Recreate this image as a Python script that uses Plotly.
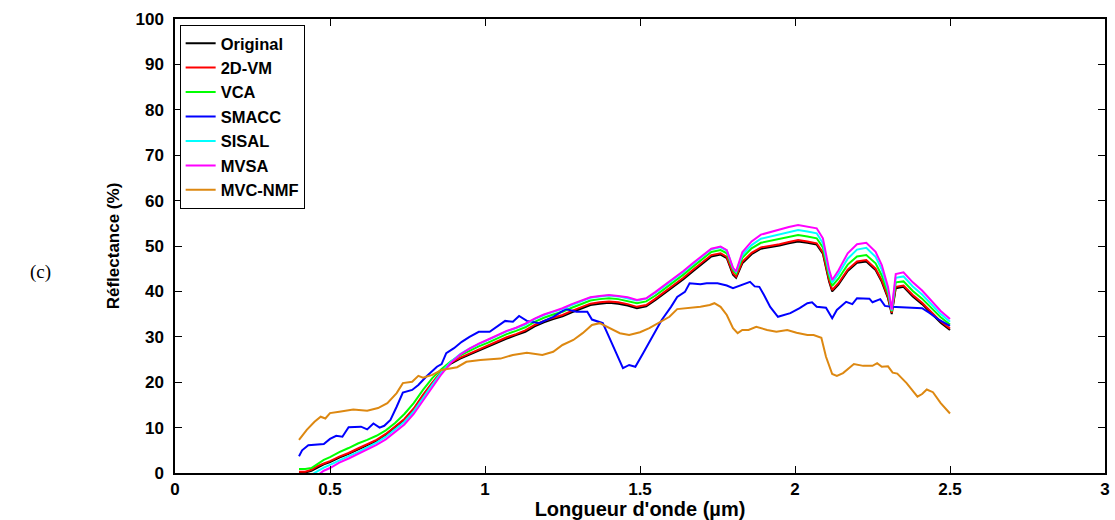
import plotly.graph_objects as go

# Wavelength grid shared by the five close spectra (µm)
wl = [0.40, 0.42, 0.44, 0.46, 0.48, 0.50, 0.53, 0.56, 0.59, 0.62, 0.65, 0.68, 0.71, 0.74, 0.77,
      0.80, 0.83, 0.86, 0.89, 0.92, 0.95, 0.98, 1.01, 1.04, 1.07, 1.10, 1.13, 1.16, 1.19, 1.22,
      1.25, 1.28, 1.31, 1.34, 1.37, 1.40, 1.43, 1.46, 1.49, 1.52, 1.55, 1.58, 1.61, 1.64, 1.67,
      1.70, 1.73, 1.76, 1.78, 1.80, 1.81, 1.83, 1.86, 1.89, 1.92, 1.95, 1.98, 2.01, 2.04, 2.07,
      2.09, 2.11, 2.12, 2.14, 2.17, 2.20, 2.23, 2.26, 2.28, 2.30, 2.312, 2.325, 2.35, 2.38, 2.41,
      2.44, 2.47, 2.50]

original = [0.0, 0.1, 0.5, 1.2, 1.9, 2.4, 3.4, 4.2, 5.2, 6.1, 7.1, 8.4, 10.0, 11.7, 14.0,
            17.0, 19.7, 22.2, 24.1, 25.2, 26.1, 27.0, 27.8, 28.7, 29.6, 30.4, 31.1, 32.3, 33.2, 33.9,
            34.5, 35.4, 36.2, 37.0, 37.3, 37.5, 37.3, 36.9, 36.3, 36.7, 38.1, 39.6, 41.1, 42.7, 44.4,
            46.0, 47.7, 48.1, 47.3, 43.7, 43.0, 46.2, 48.2, 49.4, 49.7, 50.1, 50.6, 51.0, 50.7, 50.3,
            48.3, 42.2, 40.0, 41.5, 44.5, 46.3, 46.6, 44.7, 42.1, 38.5, 35.0, 40.7, 41.0, 38.9, 37.2,
            35.1, 33.1, 31.5]

vm2d = [0.3, 0.3, 0.7, 1.5, 2.1, 2.6, 3.6, 4.4, 5.4, 6.3, 7.3, 8.6, 10.2, 11.9, 14.2,
        17.2, 19.9, 22.4, 24.3, 25.4, 26.3, 27.2, 28.0, 29.0, 29.9, 30.6, 31.4, 32.6, 33.5, 34.2,
        34.8, 35.7, 36.5, 37.3, 37.6, 37.8, 37.6, 37.2, 36.6, 37.0, 38.4, 39.9, 41.4, 43.0, 44.7,
        46.3, 48.0, 48.4, 47.6, 44.0, 43.3, 46.5, 48.5, 49.7, 50.0, 50.4, 50.9, 51.3, 51.0, 50.6,
        48.6, 42.5, 40.3, 41.8, 44.8, 46.6, 46.9, 45.0, 42.4, 38.8, 35.3, 41.0, 41.3, 39.2, 37.5,
        35.4, 33.4, 31.8]

vca = [0.9, 0.9, 1.1, 2.0, 2.9, 3.5, 4.6, 5.5, 6.5, 7.3, 8.2, 9.4, 11.0, 13.0, 15.4,
       18.3, 20.9, 22.9, 24.6, 25.9, 26.9, 27.9, 28.7, 29.7, 30.6, 31.3, 32.1, 33.3, 34.2, 34.9,
       35.5, 36.4, 37.2, 38.0, 38.3, 38.5, 38.3, 37.9, 37.4, 37.8, 39.1, 40.6, 42.1, 43.7, 45.4,
       47.0, 48.7, 49.1, 48.4, 44.7, 43.9, 47.4, 49.5, 50.7, 51.1, 51.5, 52.0, 52.4, 52.1, 51.7,
       49.7, 43.4, 41.2, 42.8, 45.9, 47.7, 48.0, 46.2, 43.5, 39.6, 35.6, 42.0, 42.2, 40.1, 38.4,
       36.3, 34.3, 32.7]

sisal = [-1.5, -1.0, -0.4, 0.4, 1.2, 1.8, 2.8, 3.7, 4.6, 5.6, 6.7, 8.0, 9.6, 11.3, 13.6,
         16.6, 19.5, 22.2, 24.5, 26.2, 27.4, 28.4, 29.3, 30.3, 31.2, 31.9, 32.7, 33.9, 34.8, 35.5,
         36.1, 37.0, 37.8, 38.6, 38.9, 39.1, 38.9, 38.5, 38.0, 38.4, 39.7, 41.2, 42.7, 44.3, 46.0,
         47.6, 49.3, 49.7, 49.0, 45.1, 44.3, 48.0, 50.2, 51.6, 52.1, 52.5, 53.1, 53.5, 53.2, 52.8,
         50.6, 44.1, 41.9, 43.8, 47.2, 49.2, 49.6, 47.6, 44.8, 40.4, 35.8, 43.0, 43.3, 41.1, 39.3,
         37.1, 35.0, 33.3]

mvsa = [-3.0, -2.3, -1.4, -0.5, 0.5, 1.1, 2.3, 3.2, 4.2, 5.1, 6.2, 7.4, 9.0, 10.7, 13.0,
        16.0, 19.0, 21.8, 24.3, 26.1, 27.4, 28.5, 29.4, 30.4, 31.3, 32.0, 32.9, 34.0, 34.9, 35.6,
        36.3, 37.2, 38.0, 38.7, 39.0, 39.2, 39.0, 38.7, 38.1, 38.5, 39.9, 41.4, 42.9, 44.5, 46.2,
        47.8, 49.4, 49.9, 49.1, 45.2, 44.4, 48.6, 51.0, 52.5, 53.1, 53.6, 54.2, 54.6, 54.3, 53.9,
        51.7, 44.8, 42.5, 44.6, 48.4, 50.4, 50.7, 48.7, 45.8, 41.0, 36.0, 43.8, 44.2, 42.0, 40.2,
        37.9, 35.7, 33.9]

wl_smacc = [0.40, 0.41, 0.43, 0.46, 0.48, 0.50, 0.52, 0.54, 0.56, 0.60, 0.62, 0.64, 0.66, 0.675,
            0.695, 0.715, 0.735, 0.765, 0.785, 0.81, 0.845, 0.86, 0.875, 0.90, 0.925, 0.95, 0.98,
            1.015, 1.045, 1.065, 1.09, 1.11, 1.135, 1.175, 1.22, 1.26, 1.295, 1.33, 1.345, 1.38,
            1.40, 1.42, 1.435, 1.445, 1.465, 1.485, 1.51, 1.54, 1.57, 1.60, 1.62, 1.645, 1.66,
            1.695, 1.715, 1.75, 1.78, 1.80, 1.825, 1.855, 1.87, 1.885, 1.90, 1.92, 1.945, 1.985,
            2.015, 2.04, 2.055, 2.07, 2.10, 2.12, 2.135, 2.165, 2.185, 2.20, 2.24, 2.25, 2.275,
            2.29, 2.31, 2.34, 2.38, 2.41, 2.435, 2.465, 2.50]
smacc = [3.7, 5.0, 6.1, 6.3, 6.4, 7.5, 8.2, 8.0, 10.1, 10.2, 9.6, 10.9, 10.0, 10.4,
         11.7, 14.6, 17.7, 18.3, 19.4, 21.2, 23.4, 24.0, 26.4, 27.5, 28.9, 30.0, 31.1,
         31.1, 32.6, 33.5, 33.3, 34.6, 33.5, 33.0, 34.4, 36.1, 35.5, 35.5, 33.8, 33.0,
         30.0, 27.1, 24.9, 23.1, 23.8, 23.4, 26.4, 30.0, 33.7, 36.6, 38.8, 39.9, 41.8,
         41.6, 41.8, 41.8, 41.3, 40.7, 41.4, 42.1, 41.1, 41.0, 39.2, 36.6, 34.4, 35.2,
         36.3, 37.4, 37.6, 36.6, 36.4, 34.1, 35.9, 37.7, 37.2, 38.5, 38.4, 37.6, 38.3,
         36.8, 36.6, 36.5, 36.3, 36.3, 35.2, 33.7, 32.4]

wl_nmf = [0.40, 0.425, 0.45, 0.47, 0.485, 0.50, 0.53, 0.575, 0.62, 0.655, 0.685, 0.715, 0.735,
          0.765, 0.785, 0.80, 0.83, 0.86, 0.91, 0.94, 0.985, 1.05, 1.09, 1.135, 1.185, 1.22,
          1.25, 1.285, 1.315, 1.345, 1.37, 1.40, 1.435, 1.465, 1.50, 1.53, 1.565, 1.595, 1.62,
          1.66, 1.695, 1.725, 1.74, 1.76, 1.78, 1.80, 1.815, 1.83, 1.85, 1.875, 1.91, 1.94,
          1.975, 2.005, 2.04, 2.06, 2.085, 2.10, 2.12, 2.135, 2.155, 2.19, 2.22, 2.25, 2.265,
          2.28, 2.30, 2.315, 2.33, 2.36, 2.395, 2.41, 2.425, 2.445, 2.47, 2.50]
mvcnmf = [7.3, 9.5, 11.3, 12.4, 12.0, 13.2, 13.5, 14.0, 13.7, 14.3, 15.4, 17.6, 19.8,
          20.1, 21.4, 21.0, 21.6, 22.7, 23.3, 24.5, 24.9, 25.2, 26.0, 26.5, 26.0, 26.7,
          28.2, 29.3, 30.8, 32.6, 33.0, 31.9, 30.8, 30.4, 31.0, 31.9, 33.3, 34.4, 36.1,
          36.3, 36.6, 37.0, 37.4, 36.6, 34.8, 31.9, 30.8, 31.5, 31.5, 32.2, 31.5, 31.1,
          31.5, 30.9, 30.4, 30.4, 29.8, 25.6, 21.8, 21.4, 22.0, 24.0, 23.6, 23.6, 24.2,
          23.4, 23.5, 22.1, 21.9, 19.8, 16.8, 17.4, 18.4, 17.8, 15.4, 13.1]

x_ticks = [0, 0.5, 1, 1.5, 2, 2.5, 3]
x_tick_labels = ["0", "0.5", "1", "1.5", "2", "2.5", "3"]
y_ticks = list(range(0, 101, 10))

series = [
    ("Original", wl, original, "#000000"),
    ("2D-VM", wl, vm2d, "#FF0000"),
    ("VCA", wl, vca, "#00FF00"),
    ("SMACC", wl_smacc, smacc, "#0000FF"),
    ("SISAL", wl, sisal, "#00FFFF"),
    ("MVSA", wl, mvsa, "#FF00FF"),
    ("MVC-NMF", wl_nmf, mvcnmf, "#DD8811"),
]

fig = go.Figure()
for name, xs, ys, col in series:
    fig.add_trace(go.Scatter(x=xs, y=ys, mode="lines", name=name,
                             line=dict(color=col, width=2)))

bold = "Liberation Sans"
axis_common = dict(showgrid=False, zeroline=False, showline=True, linecolor="black",
                   linewidth=1.5, mirror="ticks", ticks="inside", ticklen=7,
                   tickwidth=1, tickcolor="black", automargin=False,
                   tickfont=dict(family=bold, size=17, color="black", weight="bold"))

fig.update_xaxes(range=[0, 3], tickvals=x_ticks, ticktext=x_tick_labels,
                 title=dict(text="Longueur d'onde (µm)", standoff=2,
                            font=dict(family=bold, size=20, color="black", weight="bold")),
                 **axis_common)
fig.update_yaxes(range=[0, 100], tickvals=y_ticks, ticklabelstandoff=6,
                 title=dict(text="Réflectance (%)", standoff=12,
                            font=dict(family=bold, size=17, color="black", weight="bold")),
                 **axis_common)

fig.add_annotation(text="(c)", xref="paper", yref="paper", x=-0.145, y=0.443,
                   xanchor="center", yanchor="middle",
                   showarrow=False, font=dict(family="Liberation Serif", size=19, color="black"))

fig.update_layout(
    width=1115, height=520,
    margin=dict(l=175, r=10, t=19, b=47),
    plot_bgcolor="white", paper_bgcolor="white",
    legend=dict(x=0.005, y=0.987, xanchor="left", yanchor="top",
                bgcolor="white", bordercolor="black", borderwidth=1,
                font=dict(family=bold, size=16.5, color="black", weight="bold"),
                tracegroupgap=0),
)

fig.write_html("out.html", config={"displayModeBar": False},
               post_script="document.body.style.margin='0';document.body.style.padding='0';"
                           "document.body.style.overflow='hidden';")
